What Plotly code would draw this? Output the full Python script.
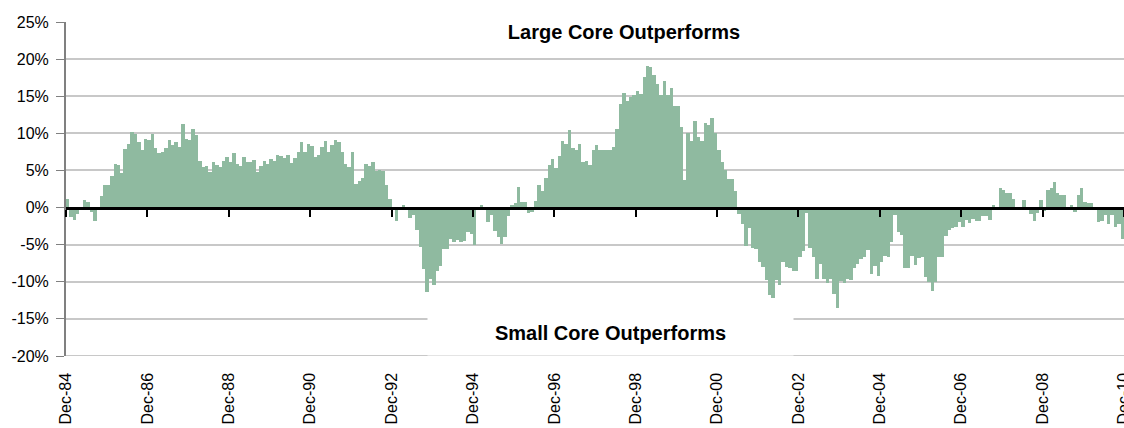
import pandas as pd
import plotly.graph_objects as go

# monthly relative return, large core minus small core (%), Dec-84 .. Nov-10
excess_return = [
    1.1, -1.3, -1.7, -0.9, 0.0, 1.0, 0.7, -0.6, -1.8, 0.0, 1.5, 3.0,
    3.0, 4.2, 5.9, 5.7, 4.7, 7.9, 8.6, 10.2, 9.9, 8.8, 7.7, 9.3,
    9.1, 9.9, 8.0, 7.4, 7.5, 8.0, 9.1, 8.4, 8.8, 8.2, 11.3, 9.3,
    9.1, 10.6, 9.8, 6.3, 5.5, 5.6, 4.8, 6.1, 5.7, 5.5, 6.3, 6.8,
    6.1, 7.3, 5.9, 5.6, 6.8, 6.1, 6.1, 6.4, 4.8, 5.6, 6.3, 5.9,
    6.5, 6.3, 7.1, 6.9, 6.7, 7.1, 6.0, 6.7, 7.5, 8.8, 7.5, 8.5,
    8.3, 6.8, 7.1, 8.2, 9.0, 7.5, 8.4, 9.1, 8.8, 7.5, 5.9, 5.5,
    7.5, 3.2, 3.6, 4.0, 5.9, 5.6, 6.1, 4.9, 5.0, 4.9, 3.0, 1.1,
    0.0, -1.8, 0.0, 0.3, 0.0, -1.4, -1.0, -3.0, -5.3, -8.3, -11.4, -9.6,
    -10.4, -8.6, -7.9, -5.6, -5.6, -4.2, -4.6, -4.4, -4.6, -4.5, -3.3, -3.5,
    -5.0, -0.3, 0.3, 0.0, -1.9, -1.0, -3.1, -4.0, -4.9, -4.0, -1.1, 0.3,
    0.6, 2.8, 0.8, 0.7, -0.7, -0.6, 0.9, 3.1, 2.2, 4.0, 5.8, 6.6,
    5.3, 7.0, 9.0, 8.6, 10.5, 8.0, 7.8, 8.6, 6.2, 6.3, 5.8, 7.8,
    8.4, 7.8, 7.8, 7.8, 7.8, 8.2, 10.6, 14.0, 15.5, 14.4, 14.9, 15.2,
    15.7, 15.3, 17.6, 19.1, 19.0, 17.9, 16.7, 15.2, 17.1, 15.2, 16.1, 13.7,
    13.7, 10.9, 3.7, 10.1, 9.0, 11.7, 9.5, 9.0, 11.4, 11.1, 12.0, 10.1,
    7.7, 6.2, 5.0, 3.8, 3.8, 2.2, -0.9, -2.2, -5.2, -2.7, -5.4, -5.6,
    -7.3, -8.0, -9.8, -11.8, -12.2, -9.8, -10.4, -7.4, -8.0, -8.1, -8.5, -8.5,
    -6.6, -5.8, -0.8, -5.4, -6.7, -9.6, -7.6, -9.6, -10.2, -9.6, -11.7, -13.5,
    -9.9, -10.2, -9.6, -9.7, -8.2, -7.6, -6.9, -6.6, -5.7, -9.0, -7.9, -9.2,
    -7.3, -6.5, -6.6, -4.7, -1.0, -3.3, -3.7, -8.1, -8.1, -6.5, -7.7, -6.8,
    -6.7, -9.4, -10.0, -11.2, -10.0, -6.7, -6.7, -3.8, -3.0, -2.8, -2.6, -1.9,
    -2.6, -1.7, -2.1, -1.5, -1.8, -1.8, -1.2, -1.1, -1.7, 0.3, 0.0, 2.7,
    2.3, 1.9, 1.9, 1.1, 0.0, 0.0, 1.0, 0.0, -0.9, -1.8, -0.7, 1.0,
    -0.4, 2.3, 2.6, 3.5, 1.9, 1.7, 1.7, 0.0, 0.4, -0.6, 1.7, 2.6,
    0.7, 0.6, 0.6, 0.0, -1.9, -1.8, -1.0, -2.2, -1.0, -2.6, -2.2, -4.3,
]
start_month = "1984-12-01"
end_month = "2010-12-01 04:00"  # just past Dec-10 so its (clipped) label is kept

y_tick_vals = [-20, -15, -10, -5, 0, 5, 10, 15, 20, 25]
y_tick_labels = ["-20%", "-15%", "-10%", "-5%", "0%", "5%", "10%", "15%", "20%", "25%"]

top_label = "Large Core Outperforms"
bottom_label = "Small Core Outperforms"

months = pd.date_range(start_month, periods=len(excess_return), freq="MS")
days = months.days_in_month
mid = months + pd.to_timedelta(days / 2, unit="D")
widths = [d * 86400000 for d in days]

FONT = "Liberation Sans, Arial, sans-serif"
BAR = "#8FBAA0"
GRID = "#C8C8C8"

fig = go.Figure(go.Bar(
    x=mid, y=excess_return, width=widths,
    marker=dict(color=BAR, line=dict(width=0)),
    hoverinfo="x+y",
))

fig.update_layout(
    width=1124, height=428,
    margin=dict(l=66, r=0, t=22, b=72, pad=0, autoexpand=False),
    plot_bgcolor="white", paper_bgcolor="white",
    showlegend=False, bargap=0,
    font=dict(family=FONT, size=16, color="black"),
    xaxis=dict(
        type="date", range=[start_month, end_month],
        tick0=start_month, dtick="M24", tickformat="%b-%y", tickangle=-90,
        anchor="free", position=20 / 45,
        showline=True, linecolor="black", linewidth=3,
        ticks="outside", ticklen=7, tickwidth=2, tickcolor="black",
        ticklabelstandoff=150, ticklabeloverflow="allow", automargin=False,
        showgrid=False, zeroline=False,
    ),
    yaxis=dict(
        range=[-20, 25], tickvals=y_tick_vals, ticktext=y_tick_labels,
        showline=True, linecolor="#808080", linewidth=2,
        ticks="outside", ticklen=8, tickwidth=1, tickcolor="#808080",
        ticklabelstandoff=4, automargin=False,
        showgrid=True, gridcolor=GRID, gridwidth=2, zeroline=False,
    ),
)

# plotly skips the grid line at the bottom edge, so draw the -20% one by hand
fig.add_hline(y=y_tick_vals[0], line=dict(color=GRID, width=2), layer="below")

fig.add_annotation(
    text="<b>%s</b>" % top_label, xref="paper", yref="y", x=0.527, y=23.6,
    showarrow=False, bgcolor="white", width=364, height=40, borderpad=0,
    font=dict(family=FONT, size=20, color="black"),
)
fig.add_annotation(
    text="<b>%s</b>" % bottom_label, xref="paper", yref="y", x=0.5147, y=-16.9,
    showarrow=False, bgcolor="white", width=365, height=44, borderpad=0,
    font=dict(family=FONT, size=20, color="black"),
)

# drop the browser's default body margin so the chart sits at the page corner
fig.write_html(
    "out.html",
    config={"displayModeBar": False},
    post_script="document.body.style.margin='0';document.body.style.overflow='hidden';",
)
